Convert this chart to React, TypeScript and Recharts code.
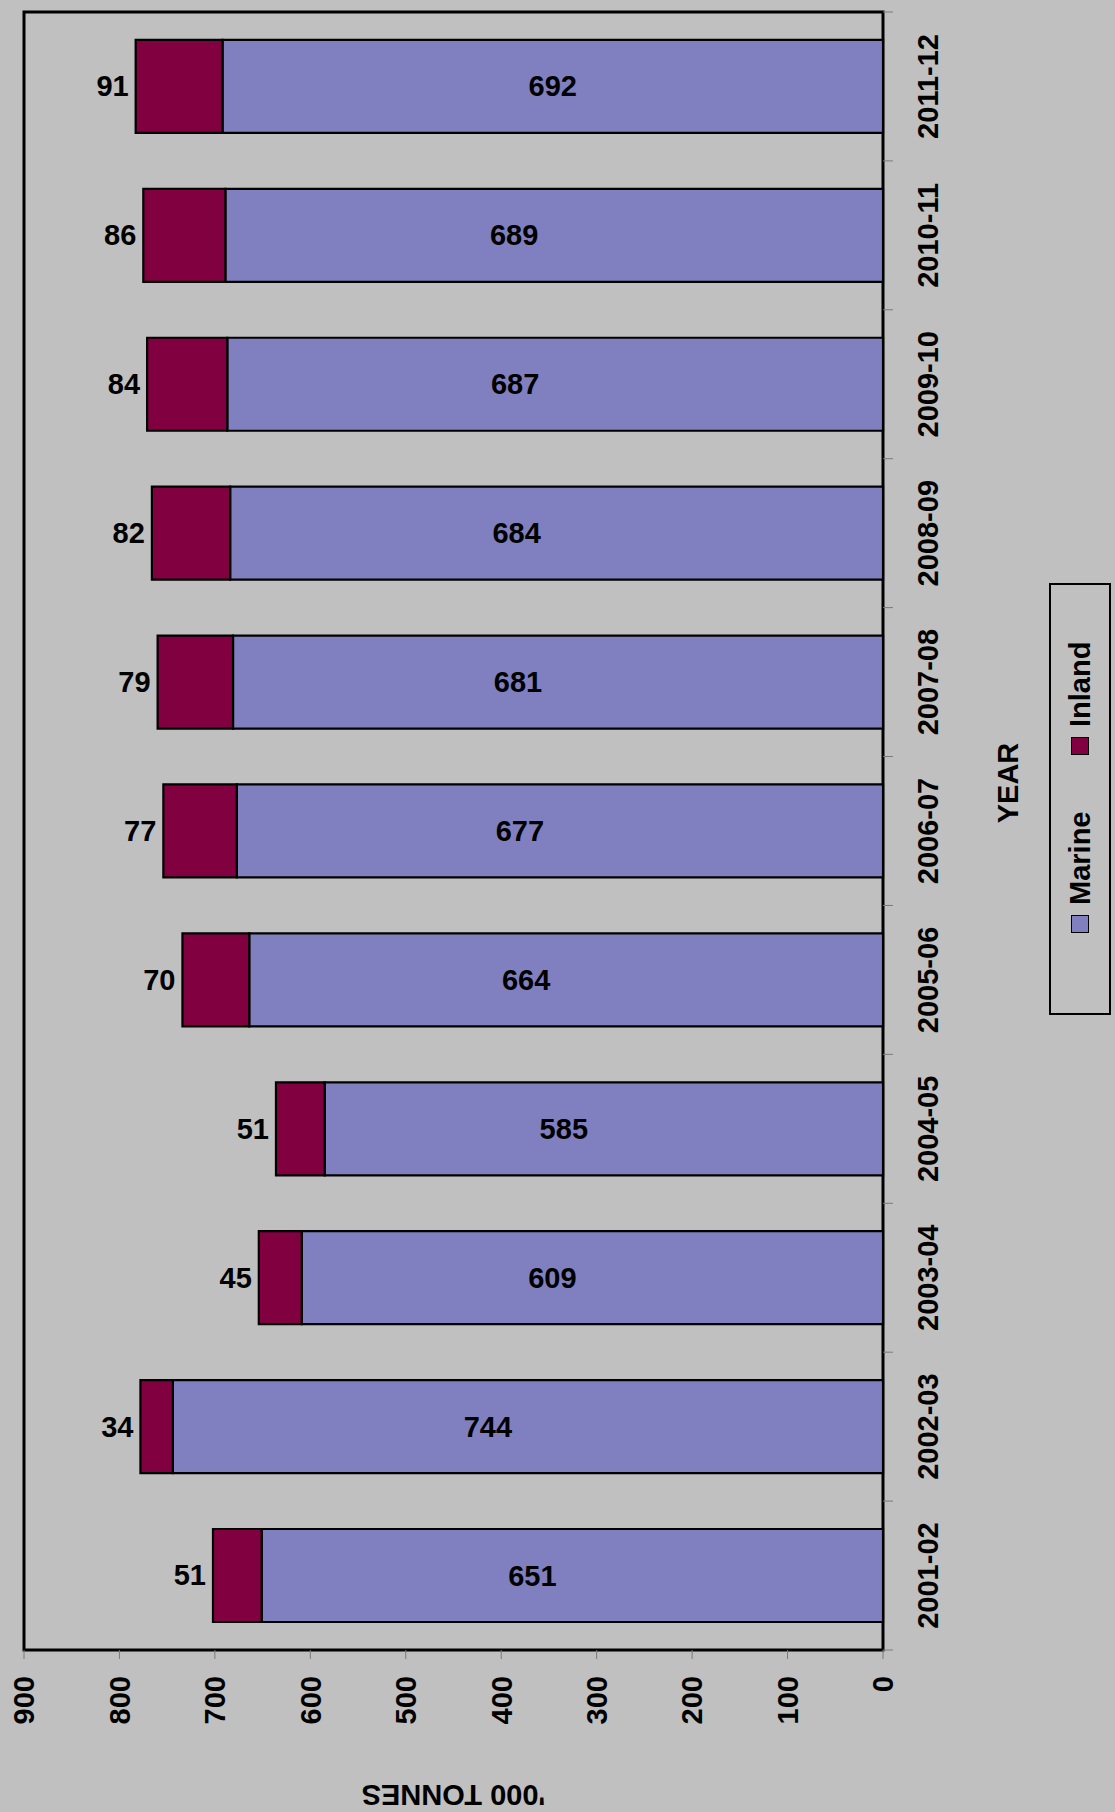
import React from 'react';
import { BarChart, Bar, XAxis, YAxis, Legend, LabelList, ReferenceArea } from 'recharts';

// Fish production by year ('000 tonnes)
const years = ['2001-02', '2002-03', '2003-04', '2004-05', '2005-06', '2006-07', '2007-08', '2008-09', '2009-10', '2010-11', '2011-12'];
const marine = [651, 744, 609, 585, 664, 677, 681, 684, 687, 689, 692];
const inland = [51, 34, 45, 51, 70, 77, 79, 82, 84, 86, 91];
const valueTicks = [0, 100, 200, 300, 400, 500, 600, 700, 800, 900];
const seriesOrder = ['marine', 'inland'];

const data = years.map((year, i) => ({ year, marine: marine[i], inland: inland[i] }));

// the chart is drawn landscape and turned a quarter turn left
const W = 1812;
const H = 1115;
const MARGIN = { top: 24, right: 12, bottom: 0, left: 0 };
const Y_AXIS_W = 162;
const X_AXIS_H = 232;
const PLOT_BOTTOM = H - MARGIN.bottom - X_AXIS_H;
const BAND = (W - MARGIN.left - MARGIN.right - Y_AXIS_W) / years.length;

const FONT = '"Liberation Sans", Arial, sans-serif';
const GRAY = '#c0c0c0';
const MARINE = '#8080c0';
const INLAND = '#800040';
const TICK_GRAY = '#7a7a7a';

const textStyle = { fontFamily: FONT, fontSize: 29, fontWeight: 700, fill: '#000' };

const YearTick = (props: any) => {
  const { x, y, payload, index } = props;
  const left = x - BAND / 2;
  return (
    <g>
      <line x1={left} x2={left} y1={PLOT_BOTTOM} y2={PLOT_BOTTOM + 10} stroke={TICK_GRAY} strokeWidth={1} />
      {index === years.length - 1 && (
        <line x1={x + BAND / 2} x2={x + BAND / 2} y1={PLOT_BOTTOM} y2={PLOT_BOTTOM + 10} stroke={TICK_GRAY} strokeWidth={1} />
      )}
      <text x={x} y={y + 22} textAnchor="middle" style={textStyle}>{payload.value}</text>
    </g>
  );
};

const MarineLabel = (props: any) => {
  const { x, y, width, height } = props.viewBox ?? props;
  const cx = x + width / 2;
  const shift = props.index === years.length - 1 ? 0 : -40;
  const cy = y + height / 2 + shift;
  return (
    <text x={cx} y={cy} transform={`rotate(90 ${cx} ${cy})`} textAnchor="middle" dominantBaseline="central" style={textStyle}>
      {props.value}
    </text>
  );
};

const InlandLabel = (props: any) => {
  const { x, y, width, height } = props.viewBox ?? props;
  const cx = x + width / 2;
  const top = Math.min(y, y + height) - 7;
  return (
    <text x={cx} y={top} transform={`rotate(90 ${cx} ${top})`} textAnchor="end" dominantBaseline="central" style={textStyle}>
      {props.value}
    </text>
  );
};

const yTitle = (props: any) => {
  const vb = props.viewBox;
  const cx = vb.x + 17;
  const cy = vb.y + vb.height / 2;
  return (
    <text x={cx} y={cy} transform={`rotate(-90 ${cx} ${cy})`} textAnchor="middle" dominantBaseline="central" style={textStyle}>
      '000 TONNES
    </text>
  );
};

const xTitle = (props: any) => {
  const vb = props.viewBox;
  return (
    <text x={vb.x + vb.width / 2 + 48} y={vb.y + 135} textAnchor="middle" style={textStyle}>
      YEAR
    </text>
  );
};

const LegendBox = ({ payload }: any) => {
  const items = [...(payload || [])].sort(
    (a: any, b: any) => seriesOrder.indexOf(a.dataKey) - seriesOrder.indexOf(b.dataKey)
  );
  return (
    <div
      style={{
        position: 'absolute',
        left: 0,
        top: 0,
        width: 432,
        height: 62,
        border: '2px solid #000',
        boxSizing: 'border-box',
        background: GRAY,
        fontFamily: FONT,
        fontSize: 29,
        fontWeight: 700,
        color: '#000',
      }}
    >
      {items.map((p: any, i: number) => (
        <div
          key={p.value}
          style={{ position: 'absolute', left: 80 + i * 178, top: 0, height: 58, display: 'flex', alignItems: 'center', whiteSpace: 'nowrap' }}
        >
          <span
            style={{
              display: 'inline-block',
              width: 16,
              height: 16,
              background: p.payload?.fill ?? p.color,
              border: '1.5px solid #000',
              marginRight: 10,
            }}
          />
          <span>{p.value}</span>
        </div>
      ))}
    </div>
  );
};

export default function App() {
  return (
    <div style={{ position: 'absolute', left: 0, top: 0, width: 1115, height: 1812, overflow: 'hidden', background: GRAY }}>
      <div style={{ position: 'absolute', left: 0, top: 1812, width: W, height: H, transformOrigin: '0 0', transform: 'rotate(-90deg)' }}>
        <BarChart width={W} height={H} data={data} margin={MARGIN} barCategoryGap="18.8%" style={{ fontFamily: FONT }}>
          <ReferenceArea y1={0} y2={900} fill="none" fillOpacity={0} stroke="#000" strokeWidth={3} ifOverflow="visible" />
          <XAxis
            dataKey="year"
            height={X_AXIS_H}
            axisLine={false}
            tickLine={false}
            tickSize={10}
            tickMargin={23}
            interval={0}
            tick={<YearTick />}
            label={xTitle}
          />
          <YAxis
            type="number"
            domain={[0, 900]}
            ticks={valueTicks}
            width={Y_AXIS_W}
            axisLine={false}
            tickSize={9}
            tickMargin={17}
            tickLine={{ stroke: TICK_GRAY, strokeWidth: 1 }}
            interval={0}
            tick={textStyle}
            label={yTitle}
          />
          <Legend
            content={<LegendBox />}
            wrapperStyle={{ left: 797, top: 1049, bottom: 'auto', width: 0, height: 0 }}
          />
          <Bar dataKey="marine" name="Marine" stackId="a" fill={MARINE} stroke="#000" strokeWidth={2.2} isAnimationActive={false}>
            <LabelList dataKey="marine" content={MarineLabel} />
          </Bar>
          <Bar dataKey="inland" name="Inland" stackId="a" fill={INLAND} stroke="#000" strokeWidth={2.2} isAnimationActive={false}>
            <LabelList dataKey="inland" content={InlandLabel} />
          </Bar>
        </BarChart>
      </div>
    </div>
  );
}
